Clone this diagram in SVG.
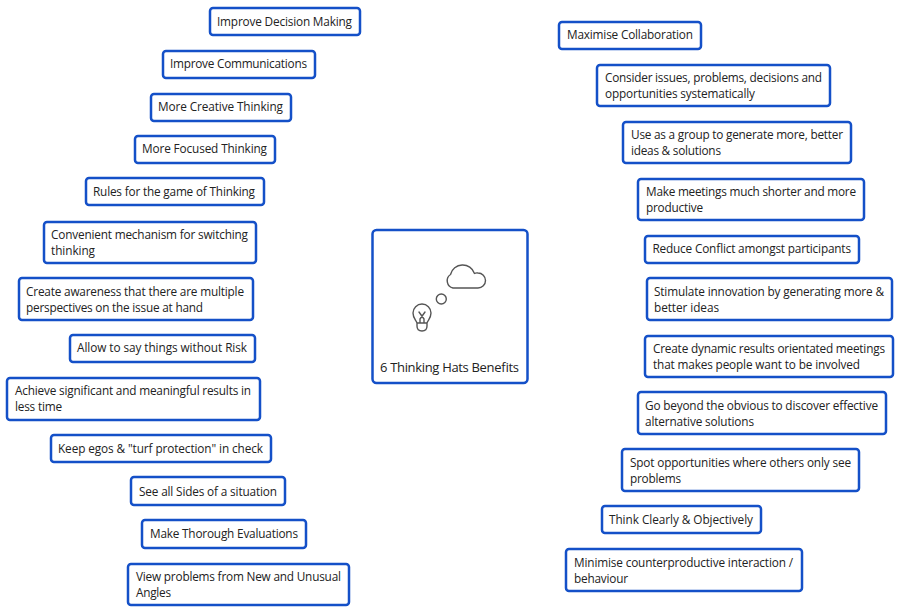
<svg xmlns="http://www.w3.org/2000/svg" width="900" height="612" viewBox="0 0 900 612">
<style>
.b{fill:#fff;stroke:#1450c8;stroke-width:2.5}
.t{font-family:"Open Sans","Noto Sans","Liberation Sans",sans-serif;font-size:11.800px;fill:#222}
.i{fill:none;stroke:#555;stroke-width:1.400;stroke-linecap:round;stroke-linejoin:round}
</style>
<rect width="900" height="612" fill="#fff"/>
<g id="connectors"/>
<g id="center"><rect class="b" x="372.500" y="230" width="155" height="153" rx="4"/>
<path class="i" d="M453 288H478A7.500 7.500 0 0 0 478 273Q476 272.700 474.500 273.500A12.500 12.500 0 0 0 450.500 274.500A7.500 7.500 0 0 0 453 288Z"/>
<circle class="i" cx="441.300" cy="299" r="5"/>
<path class="i" d="M417 323C416 320 413 318 413 313a9 9 0 0 1 18 0c0 5-3 7-4 10zM417 323v3q0 5 5 5t5-5v-3M419 312l5 7M425 312l-5 7M420 319v4M424 319v4"/>
<text class="t" x="380" y="372" style="font-size:13px" textLength="139">6 Thinking Hats Benefits</text></g>
<g id="l1"><rect class="b" x="210" y="8" width="150" height="27" rx="3"/><text class="t" x="217" y="26" textLength="135">Improve Decision Making</text></g>
<g id="l2"><rect class="b" x="163" y="51" width="152" height="27" rx="3"/><text class="t" x="170" y="68" textLength="137">Improve Communications</text></g>
<g id="l3"><rect class="b" x="151" y="94" width="140" height="27" rx="3"/><text class="t" x="158" y="111" textLength="125">More Creative Thinking</text></g>
<g id="l4"><rect class="b" x="135" y="136" width="140" height="27" rx="3"/><text class="t" x="142" y="153" textLength="125">More Focused Thinking</text></g>
<g id="l5"><rect class="b" x="86" y="178" width="178" height="27" rx="3"/><text class="t" x="93" y="196" textLength="162">Rules for the game of Thinking</text></g>
<g id="l6"><rect class="b" x="44" y="222" width="212" height="41" rx="3"/><text class="t" x="51" y="239" textLength="197">Convenient mechanism for switching</text><text class="t" x="51" y="255" textLength="44">thinking</text></g>
<g id="l7"><rect class="b" x="19" y="278" width="234" height="42" rx="3"/><text class="t" x="26" y="296" textLength="218">Create awareness that there are multiple</text><text class="t" x="26" y="312" textLength="177">perspectives on the issue at hand</text></g>
<g id="l8"><rect class="b" x="70" y="335" width="185" height="27" rx="3"/><text class="t" x="77" y="352" textLength="170">Allow to say things without Risk</text></g>
<g id="l9"><rect class="b" x="7" y="378" width="253" height="42" rx="3"/><text class="t" x="15" y="395" textLength="236">Achieve significant and meaningful results in</text><text class="t" x="15" y="411" textLength="47">less time</text></g>
<g id="l10"><rect class="b" x="51" y="435" width="220" height="27" rx="3"/><text class="t" x="58" y="453" textLength="205">Keep egos &amp; "turf protection" in check</text></g>
<g id="l11"><rect class="b" x="131" y="477" width="154" height="28" rx="3"/><text class="t" x="139" y="496" textLength="138">See all Sides of a situation</text></g>
<g id="l12"><rect class="b" x="142" y="520" width="164" height="28" rx="3"/><text class="t" x="150" y="538" textLength="148">Make Thorough Evaluations</text></g>
<g id="l13"><rect class="b" x="128" y="564" width="221" height="41" rx="3"/><text class="t" x="136" y="581" textLength="205">View problems from New and Unusual</text><text class="t" x="136" y="597" textLength="35">Angles</text></g>
<g id="r1"><rect class="b" x="559" y="22" width="142" height="27" rx="3"/><text class="t" x="567" y="39" textLength="126">Maximise Collaboration</text></g>
<g id="r2"><rect class="b" x="597" y="65" width="233" height="41" rx="3"/><text class="t" x="605" y="82" textLength="217">Consider issues, problems, decisions and</text><text class="t" x="605" y="98" textLength="150">opportunities systematically</text></g>
<g id="r3"><rect class="b" x="623" y="122" width="228" height="41" rx="3"/><text class="t" x="631" y="139" textLength="212">Use as a group to generate more, better</text><text class="t" x="631" y="155" textLength="90">ideas &amp; solutions</text></g>
<g id="r4"><rect class="b" x="638" y="179" width="226" height="41" rx="3"/><text class="t" x="646" y="196" textLength="210">Make meetings much shorter and more</text><text class="t" x="646" y="212" textLength="57">productive</text></g>
<g id="r5"><rect class="b" x="645" y="236" width="214" height="27" rx="3"/><text class="t" x="652.500" y="253" textLength="198.500">Reduce Conflict amongst participants</text></g>
<g id="r6"><rect class="b" x="647" y="278" width="245" height="42" rx="3"/><text class="t" x="654" y="296" textLength="230">Stimulate innovation by generating more &amp;</text><text class="t" x="654" y="312" textLength="65">better ideas</text></g>
<g id="r7"><rect class="b" x="645" y="336" width="248" height="41" rx="3"/><text class="t" x="653" y="353" textLength="232">Create dynamic results orientated meetings</text><text class="t" x="653" y="369" textLength="207">that makes people want to be involved</text></g>
<g id="r8"><rect class="b" x="638" y="392" width="248" height="42" rx="3"/><text class="t" x="645" y="410" textLength="233">Go beyond the obvious to discover effective</text><text class="t" x="645" y="426" textLength="109">alternative solutions</text></g>
<g id="r9"><rect class="b" x="622" y="449" width="237" height="42" rx="3"/><text class="t" x="630" y="467" textLength="221">Spot opportunities where others only see</text><text class="t" x="630" y="483" textLength="51">problems</text></g>
<g id="r10"><rect class="b" x="602" y="506" width="159" height="27" rx="3"/><text class="t" x="609" y="524" textLength="144">Think Clearly &amp; Objectively</text></g>
<g id="r11"><rect class="b" x="566" y="549" width="236" height="42" rx="3"/><text class="t" x="574" y="567" textLength="219">Minimise counterproductive interaction /</text><text class="t" x="574" y="583" textLength="54">behaviour</text></g>
</svg>
